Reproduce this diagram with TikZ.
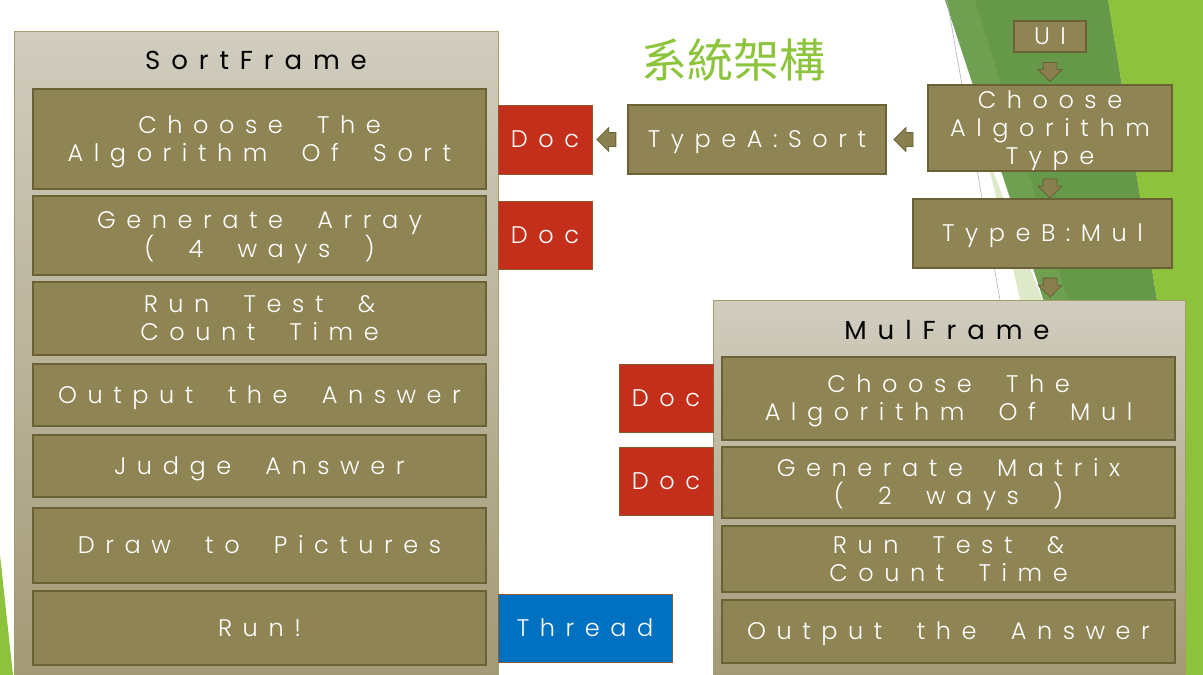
\documentclass[tikz,border=0pt]{standalone}
\usepackage{fontspec}
\setmainfont{Poppins}
\newfontfamily\trk{Poppins}[UprightFont={* Light}, LetterSpace=44, WordSpace=2]
\newfontfamily\ttl{Poppins}[LetterSpace=42, WordSpace=2]
\newfontfamily\cjk{Noto Sans CJK TC}
\usetikzlibrary{shapes.arrows,calc}
\definecolor{boxc}{HTML}{8F8453}
\definecolor{boxd}{HTML}{6A6136}
\definecolor{frtop}{HTML}{D1CDBF}
\definecolor{frbot}{HTML}{A39A76}
\definecolor{frd}{HTML}{A39B6C}
\definecolor{docc}{HTML}{C42F1B}
\definecolor{docd}{HTML}{8C5A2E}
\definecolor{thc}{HTML}{0070C0}
\definecolor{arrc}{HTML}{8A7F4E}
\definecolor{arrd}{HTML}{6A6136}
\definecolor{gbright}{HTML}{8DC23D}
\definecolor{gmed}{HTML}{6FA052}
\definecolor{gdark}{HTML}{66984A}
\definecolor{glight}{HTML}{DDE9C9}
\definecolor{ttlg}{HTML}{8CC43C}
\tikzset{
  box/.style={rectangle, fill=boxc, draw=boxd, line width=1.5pt, text=white, align=center,
    inner sep=0pt, font=\trk\fontsize{24}{28}\selectfont, text height=16.8pt, text depth=0pt},
  ml/.style={text height=44.8pt},
  mlthree/.style={text height=72.8pt},
  frame/.style={rectangle, top color=frtop, bottom color=frbot, draw=frd, line width=0.8pt, inner sep=0pt},
  doc/.style={box, fill=docc, draw=docd, line width=0.8pt, minimum width=94pt, minimum height=68pt},
  frtitle/.style={text=black, inner sep=0pt, font=\ttl\fontsize{26}{32}\selectfont,
    text height=18.2pt, text depth=0pt},
  blk/.style={single arrow, fill=arrc, draw=arrd, line width=0.8pt,
    single arrow head extend=5pt, minimum height=19pt, single arrow head indent=0pt},
  downarr/.style={blk, inner xsep=6.5pt, inner ysep=0pt, shape border rotate=270},
  leftarr/.style={blk, inner xsep=0pt, inner ysep=6.5pt, shape border rotate=180}
}
\begin{document}
\begin{tikzpicture}[x=1pt,y=-1pt]
\useasboundingbox (0,0) rectangle (1203,675);
\fill[white] (0,0) rectangle (1203,675);
% background decoration
\fill[gmed] (945,0) -- (1108,0) -- (1160,320) -- (1050,320) -- cycle;
\fill[gdark] (975,0) -- (1108,0) -- (1157,300) -- (1068,300) -- cycle;
\fill[glight] (985,150) -- (1050,320) -- (1025,320) -- cycle;
\fill[gbright] (1108,0) -- (1203,0) -- (1203,675) -- (1185,675) -- (1157,300) -- cycle;
\draw[black!30, line width=0.6pt] (947,0) -- (1000,300);
\fill[gbright] (0,555) -- (13,675) -- (0,675) -- cycle;

% title
\node[text=ttlg, font=\cjk\fontsize{46}{50}\selectfont, inner sep=0pt] (title) at (733,60) {系統架構};

% SortFrame
\node[frame, minimum width=484pt, minimum height=644pt] (sortf) at (256,353) {};
\node[frtitle] (sortt) at (256,60) {SortFrame};
\node[box, ml, minimum width=453pt, minimum height=100pt] (s1) at (259.5,139) {Choose The\\Algorithm Of Sort};
\node[box, ml, minimum width=453pt, minimum height=79pt] (s2) at (259.5,235.5) {Generate Array\\( 4 ways )};
\node[box, ml, minimum width=453pt, minimum height=73pt] (s3) at (259.5,318.5) {Run Test \&\\Count Time};
\node[box, minimum width=453pt, minimum height=62pt] (s4) at (259.5,395) {Output the Answer};
\node[box, minimum width=453pt, minimum height=62pt] (s5) at (259.5,466) {Judge Answer};
\node[box, minimum width=453pt, minimum height=75pt] (s6) at (259.5,545.5) {Draw to Pictures};
\node[box, minimum width=453pt, minimum height=74pt] (s7) at (259.5,628) {Run!};

\node[doc, minimum height=69pt] (d1) at (545,139.5) {Doc};
\node[doc] (d2) at (545,235) {Doc};
\node[doc, fill=thc, minimum width=174pt] (thr) at (585,628) {Thread};

% top flow
\node[box, minimum width=258pt, minimum height=69pt] (typea) at (757,139.5) {TypeA:Sort};
\node[box, minimum width=72pt, minimum height=31pt] (ui) at (1050,36.5) {UI};
\node[box, mlthree, minimum width=244pt, minimum height=86pt] (cat) at (1050,128) {Choose\\Algorithm\\Type};
\node[box, minimum width=259pt, minimum height=69pt] (typeb) at (1042.5,233.5) {TypeB:Mul};

% MulFrame
\node[frame, minimum width=472pt, minimum height=377pt] (mulf) at (949,488.5) {};
\node[frtitle] (mult) at (947,330) {MulFrame};
\node[box, ml, minimum width=453pt, minimum height=83pt] (m1) at (948.5,398.5) {Choose The\\Algorithm Of Mul};
\node[box, ml, minimum width=453pt, minimum height=71pt] (m2) at (948.5,482.5) {Generate Matrix\\( 2 ways )};
\node[box, ml, minimum width=453pt, minimum height=66pt] (m3) at (948.5,559) {Run Test \&\\Count Time};
\node[box, minimum width=453pt, minimum height=63pt] (m4) at (948.5,631.5) {Output the Answer};
\node[doc] (d3) at (666,398) {Doc};
\node[doc] (d4) at (666,481) {Doc};

% block arrows
\node[downarr] (a1) at ($(ui.south)!.5!(cat.north)$) {};
\node[downarr] (a2) at ($(ui.south |- cat.south)!.5!(ui.south |- typeb.north)$) {};
\node[downarr] (a3) at ($(ui.south |- typeb.south)!.5!(ui.south |- mulf.north)$) {};
\node[leftarr] (a4) at ($(typea.east)!.5!(cat.west |- typea.east)$) {};
\node[leftarr] (a5) at ($(d1.east)!.5!(typea.west)$) {};
\end{tikzpicture}
\end{document}
